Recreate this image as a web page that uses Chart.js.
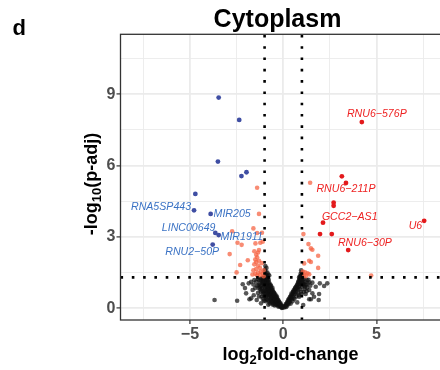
<!DOCTYPE html>
<html>
<head>
<meta charset="utf-8">
<script src="https://cdn.jsdelivr.net/npm/chart.js@4.4.1/dist/chart.umd.min.js"></script>
<style>
  html, body { margin: 0; padding: 0; background: #ffffff; overflow: hidden; }
  canvas { display: block; }
</style>
</head>
<body>
<canvas id="volcano" width="450" height="370"></canvas>
<script>
// ---- data: log2 fold-change and -log10(adjusted p) per gene ----
const upGenes = ['RNU6-576P', null, 'RNU6-211P', null, null, 'GCC2-AS1', null, null, 'RNU6-30P', 'U6'];
const upPoints = [
  [4.21, 7.83], [3.14, 5.55], [3.36, 5.27], [2.70, 4.44], [2.70, 4.31],
  [2.13, 3.60], [1.97, 3.12], [2.60, 3.12], [3.48, 2.45], [7.55, 3.68]
];

const downGenes = [null, null, null, null, null, null, 'RNA5SP443', 'MIR205', 'LINC00649', 'MIR1911', 'RNU2-50P'];
const downPoints = [
  [-3.46, 8.86], [-2.36, 7.92], [-3.50, 6.17], [-2.24, 5.56], [-1.97, 5.72], [-4.71, 4.81],
  [-4.78, 4.12], [-3.89, 3.97], [-3.64, 3.17], [-3.46, 3.08], [-3.78, 2.68]
];

// significant genes without a label
const sigPoints = [
  [-1.40, 5.07], [-1.30, 3.97], [-1.60, 3.36], [-2.74, 3.24], [-1.40, 3.17], [-1.14, 3.18],
  [-1.10, 2.80], [-1.23, 2.76], [-1.49, 2.73], [-2.45, 2.76], [-2.23, 2.67], [-2.87, 2.28],
  [-1.90, 2.02], [-2.31, 1.82], [-2.50, 1.51],
  [-1.35, 2.35], [-1.45, 2.25], [-1.40, 2.15], [-1.50, 2.05], [-1.30, 2.00], [-1.45, 1.95],
  [-1.55, 1.85], [-1.35, 1.80], [-1.25, 1.70], [-1.45, 1.65], [-1.60, 1.60], [-1.20, 1.55],
  [-1.35, 1.50], [-1.50, 1.45], [-1.10, 1.45], [-1.25, 1.40], [-1.40, 1.38], [-1.05, 1.60],
  [-1.15, 1.90], [-1.65, 1.42], [-1.05, 1.35], [-1.30, 2.45], [-1.55, 2.40],
  [1.44, 5.28], [1.08, 3.12], [1.35, 2.70], [1.48, 2.52], [1.56, 2.46], [1.87, 2.21],
  [1.48, 1.95], [1.39, 2.00], [1.87, 1.70], [1.12, 1.89], [1.17, 1.51], [1.30, 1.47],
  [1.12, 1.40], [1.39, 1.43], [4.71, 1.38], [1.05, 1.55], [1.20, 1.35]
];

// genes that pass neither cut-off
const nsPoints = [
  [-0.05, 0.03], [-0.10, 0.06], [-0.15, 0.08], [-0.20, 0.10], [-0.08, 0.02], [-0.25, 0.07], [-0.30, 0.12],
  [-0.18, 0.18], [-0.25, 0.20], [-0.32, 0.22], [-0.40, 0.18], [-0.22, 0.28], [-0.30, 0.30], [-0.38, 0.27],
  [-0.45, 0.25], [-0.50, 0.20], [-0.55, 0.15],
  [-0.30, 0.38], [-0.35, 0.42], [-0.42, 0.35], [-0.48, 0.40], [-0.55, 0.33], [-0.60, 0.30], [-0.40, 0.50],
  [-0.50, 0.48], [-0.58, 0.45], [-0.65, 0.42], [-0.70, 0.36], [-0.78, 0.30],
  [-0.42, 0.58], [-0.50, 0.60], [-0.55, 0.55], [-0.60, 0.62], [-0.65, 0.52], [-0.70, 0.58], [-0.75, 0.50],
  [-0.52, 0.68], [-0.60, 0.70], [-0.68, 0.66], [-0.78, 0.62], [-0.85, 0.55], [-0.90, 0.48],
  [-0.58, 0.78], [-0.64, 0.80], [-0.70, 0.75], [-0.76, 0.72], [-0.82, 0.70], [-0.66, 0.88], [-0.72, 0.85],
  [-0.80, 0.82], [-0.88, 0.78], [-0.95, 0.72], [-1.02, 0.65], [-1.10, 0.60],
  [-0.72, 0.95], [-0.78, 0.98], [-0.84, 0.92], [-0.90, 0.90], [-0.96, 0.86], [-0.80, 1.05], [-0.86, 1.02],
  [-0.92, 1.08], [-1.00, 0.98], [-1.06, 0.92], [-1.14, 0.85], [-1.22, 0.80],
  [-0.82, 1.15], [-0.88, 1.12], [-0.94, 1.18], [-1.00, 1.12], [-1.06, 1.08], [-0.90, 1.25], [-0.96, 1.28],
  [-1.02, 1.22], [-1.10, 1.20], [-1.16, 1.14], [-1.25, 1.05], [-1.32, 0.98], [-1.40, 0.95],
  [-0.86, 1.35], [-0.92, 1.40], [-0.97, 1.45], [-0.80, 1.42], [-0.95, 1.55], [-0.85, 1.50], [-0.98, 1.62],
  [-0.90, 1.70], [-0.96, 1.78], [-0.75, 1.38],
  [-1.12, 1.27], [-1.20, 1.25], [-1.28, 1.18], [-1.35, 1.22], [-1.45, 1.12], [-1.55, 1.19], [-1.72, 1.12],
  [-1.50, 0.85], [-1.64, 0.77], [-1.81, 0.38], [-1.99, 0.63], [-2.17, 1.01], [-2.47, 0.32], [-3.68, 0.35],
  [-1.42, 0.35], [-1.19, 0.21], [-1.30, 0.50], [-1.20, 0.70], [-1.60, 1.00], [-1.35, 0.65], [-1.10, 0.40],
  [-0.95, 0.30], [-0.80, 0.15], [-1.72, 0.42], [-2.05, 0.85], [-1.85, 1.05], [-1.58, 0.55],
  [-0.12, 0.10], [-0.16, 0.14], [-0.22, 0.16], [-0.28, 0.24], [-0.34, 0.30], [-0.36, 0.36], [-0.44, 0.44],
  [-0.46, 0.32], [-0.52, 0.40], [-0.54, 0.50], [-0.62, 0.56], [-0.64, 0.64], [-0.70, 0.68], [-0.74, 0.78],
  [-0.80, 0.76], [-0.84, 0.86], [-0.88, 0.94], [-0.92, 0.98], [-0.94, 1.04], [-0.98, 1.08], [-1.04, 1.02],
  [-1.08, 1.12], [-1.12, 1.06], [-0.62, 0.48], [-0.68, 0.44], [-0.74, 0.60], [-0.82, 0.58], [-0.88, 0.66],
  [-0.94, 0.62], [-1.00, 0.76], [-1.06, 0.70], [-1.12, 0.74], [-1.18, 0.96], [-1.24, 0.90], [-1.30, 0.84],
  [-0.98, 1.32], [-1.04, 1.30], [-0.88, 1.20], [-0.84, 1.26], [-0.78, 1.20], [-0.76, 1.10], [-0.70, 1.00],
  [-0.66, 0.96], [-0.58, 0.86], [-0.56, 0.72], [-0.48, 0.64], [-0.46, 0.56], [-0.38, 0.46], [-0.34, 0.50],
  [-0.26, 0.34], [-0.20, 0.24], [-0.14, 0.20], [-0.10, 0.12], [-0.04, 0.06], [-0.36, 0.14], [-0.46, 0.12],
  [-0.60, 0.22], [-0.66, 0.28], [-0.72, 0.20], [-0.86, 0.36], [-0.92, 0.40], [-1.00, 0.50], [-1.04, 0.32],
  [-1.16, 0.50],
  [0.05, 0.04], [0.10, 0.08], [0.12, 0.12], [0.18, 0.15], [0.20, 0.22], [0.25, 0.20], [0.28, 0.30],
  [0.32, 0.35], [0.35, 0.28], [0.38, 0.42], [0.42, 0.45], [0.45, 0.55], [0.48, 0.50], [0.50, 0.62],
  [0.55, 0.68], [0.58, 0.60], [0.60, 0.75], [0.62, 0.82], [0.66, 0.78], [0.68, 0.90], [0.72, 0.95],
  [0.75, 0.88], [0.78, 1.02], [0.80, 1.10], [0.84, 1.05], [0.86, 1.18], [0.90, 1.22], [0.92, 1.12],
  [0.95, 1.30], [0.97, 1.38], [0.98, 1.25], [0.93, 1.45], [0.99, 1.52], [0.96, 1.60], [0.90, 1.35],
  [0.85, 1.30],
  [0.40, 0.20], [0.50, 0.30], [0.60, 0.40], [0.70, 0.50], [0.80, 0.65], [0.85, 0.55], [0.90, 0.80],
  [0.95, 0.70], [1.00, 0.90], [1.05, 1.00], [1.07, 1.12], [1.17, 0.91], [1.30, 1.05], [1.56, 1.08],
  [1.74, 0.91], [1.96, 1.05], [2.36, 1.05], [1.56, 0.63], [1.92, 0.60], [1.39, 0.38], [1.07, 0.14],
  [0.85, 0.49], [2.19, 0.94], [1.65, 0.49], [1.48, 0.38], [1.39, 0.77], [1.90, 0.35], [1.20, 0.60],
  [1.25, 1.20], [1.10, 1.25], [1.35, 1.20], [1.45, 0.95], [1.15, 0.80], [0.75, 0.25], [1.03, 1.28],
  [0.08, 0.10], [0.14, 0.18], [0.22, 0.26], [0.26, 0.34], [0.30, 0.40], [0.36, 0.48], [0.40, 0.52],
  [0.44, 0.62], [0.52, 0.70], [0.56, 0.76], [0.64, 0.86], [0.70, 0.84], [0.74, 0.98], [0.82, 1.14],
  [0.88, 1.26], [0.94, 1.36], [0.96, 1.20], [1.00, 1.42], [0.92, 1.02], [0.86, 0.96], [0.82, 0.90],
  [0.78, 0.80], [0.70, 0.70], [0.64, 0.62], [0.54, 0.45], [0.46, 0.38], [0.30, 0.20], [0.22, 0.12],
  [0.16, 0.06], [1.02, 1.06], [1.12, 1.02], [1.00, 1.16], [1.08, 0.96], [1.22, 0.98], [1.18, 1.12],
  [1.28, 0.88], [1.40, 1.10], [1.10, 0.70], [1.25, 0.72], [0.98, 0.60]
];

// cut-offs, axis ticks and grid positions
const fcCutoffs = [-1, 1];
const pCutoff = 1.301;
const xTicks = [-5, 0, 5];
const xGrid = [-7.5, -5, -2.5, 0, 2.5, 5, 7.5];
const yTicks = [0, 3, 6, 9];
const yGrid = [0, 1.5, 3, 4.5, 6, 7.5, 9, 10.5];

// ---- styling ----
const FONT = "'Liberation Sans', Arial, Helvetica, sans-serif";
const COL_UP = '#e31a1c';
const COL_DOWN = '#3f4ea3';
const COL_UP_TEXT = '#ee2222';
const COL_DOWN_TEXT = '#3a72c4';
const COL_SIG = 'rgba(245, 100, 68, 0.74)';
const COL_NS = 'rgba(15, 15, 15, 0.7)';

// label placement relative to each labelled point (pixels, text centre)
const labelOffset = {
  'RNA5SP443': [-33, -3.6],
  'MIR205': [21.5, 0.3],
  'LINC00649': [-26.7, -5.3],
  'MIR1911': [23, 1.7],
  'RNU2-50P': [-20.5, 7.3],
  'RNU6-576P': [15, -8.3],
  'RNU6-211P': [0, 5.7],
  'GCC2-AS1': [26.7, -5.4],
  'RNU6-30P': [16.7, -7.3],
  'U6': [-8.7, 5.3]
};

const toXY = pts => pts.map(([x, y]) => ({ x, y }));
const minusSign = v => (v < 0 ? '\u2212' + Math.abs(v) : String(v));

function drawRichText(ctx, parts, cx, baseline, size) {
  const fonts = parts.map(([, sub]) => `bold ${sub ? Math.round(size * 0.7) : size}px ${FONT}`);
  let total = 0;
  parts.forEach(([t], i) => { ctx.font = fonts[i]; total += ctx.measureText(t).width; });
  let xPos = cx - total / 2;
  ctx.textAlign = 'left';
  ctx.textBaseline = 'alphabetic';
  parts.forEach(([t, sub], i) => {
    ctx.font = fonts[i];
    ctx.fillText(t, xPos, baseline + (sub ? size * 0.24 : 0));
    xPos += ctx.measureText(t).width;
  });
}

const decorations = {
  id: 'decorations',
  afterDatasetsDraw(chart) {
    const { ctx, chartArea: a, scales: { x, y } } = chart;
    ctx.save();
    ctx.beginPath();
    ctx.rect(a.left, a.top, a.right - a.left, a.bottom - a.top);
    ctx.clip();
    // dotted cut-off lines
    ctx.strokeStyle = '#000000';
    ctx.lineWidth = 2.6;
    ctx.lineCap = 'butt';
    ctx.setLineDash([2.6, 8.7]);
    fcCutoffs.forEach(v => {
      const px = x.getPixelForValue(v);
      ctx.beginPath();
      ctx.moveTo(px, a.bottom);
      ctx.lineTo(px, a.top);
      ctx.stroke();
    });
    const py = y.getPixelForValue(pCutoff);
    ctx.beginPath();
    ctx.moveTo(a.left, py);
    ctx.lineTo(a.right, py);
    ctx.stroke();
    ctx.setLineDash([]);

    // gene labels
    ctx.font = `italic 10.6px ${FONT}`;
    ctx.textAlign = 'center';
    ctx.textBaseline = 'middle';
    const drawLabels = (genes, pts, color) => {
      ctx.fillStyle = color;
      genes.forEach((g, i) => {
        if (!g) return;
        const [dx, dy] = labelOffset[g];
        const px2 = x.getPixelForValue(pts[i][0]);
        const py2 = y.getPixelForValue(pts[i][1]);
        ctx.fillText(g.replace('-', '\u2212'), px2 + dx, py2 + dy);
      });
    };
    drawLabels(downGenes, downPoints, COL_DOWN_TEXT);
    drawLabels(upGenes, upPoints, COL_UP_TEXT);
    ctx.restore();
  },
  afterDraw(chart) {
    const { ctx, chartArea: a } = chart;
    ctx.save();
    // panel border
    ctx.strokeStyle = '#333333';
    ctx.lineWidth = 1.3;
    ctx.strokeRect(a.left, a.top, a.right - a.left, a.bottom - a.top);

    ctx.fillStyle = '#000000';
    // panel tag
    ctx.font = `bold 22px ${FONT}`;
    ctx.textAlign = 'left';
    ctx.textBaseline = 'alphabetic';
    ctx.fillText('d', 12.5, 35);
    // title
    ctx.font = `bold 25px ${FONT}`;
    ctx.textAlign = 'center';
    ctx.fillText('Cytoplasm', 277.5, 26.7);
    // x axis title
    drawRichText(ctx, [['log', false], ['2', true], ['fold-change', false]], 290.5, 360, 18);
    // y axis title
    ctx.translate(96.5, 184);
    ctx.rotate(-Math.PI / 2);
    drawRichText(ctx, [['-log', false], ['10', true], ['(p-adj)', false]], 0, 0, 18);
    ctx.restore();
  }
};

const gridOpts = (majors) => ({
  drawOnChartArea: true,
  drawTicks: true,
  tickLength: 4,
  color: '#ebebeb',
  lineWidth: ctx => (majors.includes(ctx.tick.value) ? 1.8 : 0.9),
  tickColor: ctx => (majors.includes(ctx.tick.value) ? '#333333' : 'rgba(0,0,0,0)'),
  tickWidth: 1.2
});

new Chart(document.getElementById('volcano'), {
  type: 'scatter',
  data: {
    datasets: [
      { label: 'up', data: toXY(upPoints), backgroundColor: COL_UP, pointRadius: 2.4, borderWidth: 0 },
      { label: 'down', data: toXY(downPoints), backgroundColor: COL_DOWN, pointRadius: 2.4, borderWidth: 0 },
      { label: 'significant', data: toXY(sigPoints), backgroundColor: COL_SIG, pointRadius: 2.3, borderWidth: 0 },
      { label: 'not significant', data: toXY(nsPoints), backgroundColor: COL_NS, pointRadius: 2.3, borderWidth: 0 }
    ]
  },
  options: {
    responsive: false,
    animation: false,
    devicePixelRatio: 1,
    layout: { padding: { top: 34.3, right: 2.4, left: 0, bottom: 0 } },
    plugins: { legend: { display: false }, tooltip: { enabled: false } },
    scales: {
      x: {
        type: 'linear',
        min: -8.72,
        max: 8.72,
        afterBuildTicks: s => { s.ticks = xGrid.map(v => ({ value: v })); },
        afterFit: s => { s.height = 50; },
        ticks: {
          autoSkip: false,
          maxRotation: 0,
          padding: 1,
          color: '#4d4d4d',
          font: { family: FONT, size: 16, weight: 'bold' },
          callback: v => (xTicks.includes(v) ? minusSign(v) : '')
        },
        grid: gridOpts(xTicks),
        border: { display: false }
      },
      y: {
        type: 'linear',
        min: -0.49,
        max: 11.52,
        afterBuildTicks: s => { s.ticks = yGrid.map(v => ({ value: v })); },
        afterFit: s => { s.width = 120.5; },
        ticks: {
          autoSkip: false,
          padding: 1,
          color: '#4d4d4d',
          font: { family: FONT, size: 16, weight: 'bold' },
          callback: v => (yTicks.includes(v) ? minusSign(v) : '')
        },
        grid: gridOpts(yTicks),
        border: { display: false }
      }
    }
  },
  plugins: [decorations]
});
</script>
</body>
</html>
